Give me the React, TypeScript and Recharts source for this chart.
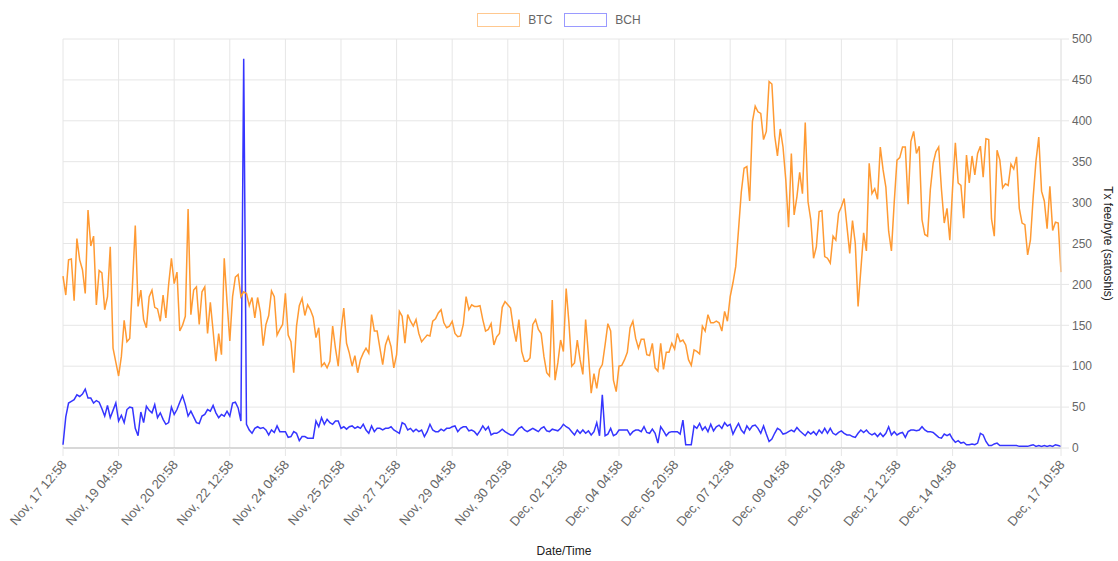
import React from 'react';
import { LineChart, Line, XAxis, YAxis, CartesianGrid } from 'recharts';

// one point every 2 hours, Nov 17 12:58 -> Dec 17 10:58 (360 points)
// rows of 20 values = one 40h tick interval
const btcFee = [
  210, 187, 230, 231, 180, 256, 230, 218, 189, 291, 247, 259, 175, 217, 214, 169, 185, 246, 122, 105,
  88, 112, 156, 130, 134, 200, 272, 173, 193, 157, 147, 185, 193, 172, 170, 155, 187, 159, 200, 232,
  201, 215, 143, 150, 161, 292, 163, 193, 197, 151, 191, 197, 140, 178, 143, 106, 140, 114, 232, 179,
  131, 185, 209, 212, 185, 191, 189, 174, 184, 159, 184, 166, 125, 151, 162, 192, 185, 138, 145, 151,
  189, 138, 130, 92, 149, 174, 183, 162, 175, 169, 160, 135, 147, 100, 104, 98, 106, 149, 122, 100,
  143, 171, 128, 116, 100, 113, 92, 108, 116, 122, 116, 163, 143, 143, 122, 102, 126, 136, 124, 98,
  114, 167, 161, 128, 163, 155, 149, 157, 140, 130, 134, 138, 137, 155, 158, 165, 169, 153, 147, 149,
  155, 140, 136, 137, 151, 185, 169, 175, 173, 173, 174, 157, 143, 145, 152, 126, 136, 140, 172, 179,
  175, 171, 147, 130, 157, 118, 106, 106, 110, 151, 157, 145, 140, 112, 92, 88, 181, 83, 104, 132,
  118, 195, 153, 100, 104, 132, 108, 90, 157, 114, 67, 91, 73, 96, 102, 126, 152, 143, 83, 69,
  100, 101, 108, 117, 147, 155, 134, 122, 133, 133, 114, 113, 128, 98, 94, 128, 96, 117, 117, 128,
  121, 140, 130, 132, 126, 108, 101, 120, 118, 115, 149, 143, 163, 153, 153, 155, 153, 143, 167, 155,
  185, 202, 222, 267, 313, 342, 344, 302, 399, 418, 411, 409, 377, 387, 448, 445, 382, 357, 390, 368,
  328, 270, 360, 285, 307, 337, 311, 398, 301, 279, 232, 246, 289, 290, 234, 232, 226, 259, 254, 287,
  295, 305, 271, 238, 278, 250, 173, 218, 263, 241, 348, 311, 317, 304, 368, 340, 319, 265, 241, 300,
  352, 355, 368, 368, 298, 375, 387, 360, 369, 279, 261, 259, 316, 348, 362, 368, 316, 275, 293, 254,
  318, 373, 324, 321, 281, 358, 324, 357, 334, 360, 369, 331, 378, 377, 280, 259, 364, 352, 318, 323,
  321, 347, 341, 356, 293, 275, 273, 236, 254, 307, 351, 380, 314, 302, 268, 320, 266, 276, 275, 215,
];

const bchFee = [
  4, 38, 55, 57, 59, 65, 63, 66, 72, 61, 61, 55, 58, 56, 48, 39, 52, 37, 46, 55,
  33, 40, 31, 47, 50, 49, 24, 15, 44, 31, 51, 46, 43, 53, 37, 43, 35, 29, 31, 50,
  41, 47, 56, 64, 53, 39, 45, 38, 31, 30, 39, 41, 47, 45, 52, 43, 37, 41, 39, 45,
  39, 55, 56, 49, 33, 476, 29, 22, 18, 24, 26, 24, 25, 22, 16, 22, 19, 27, 20, 20,
  20, 13, 14, 20, 18, 9, 14, 14, 12, 12, 12, 33, 26, 37, 29, 35, 31, 29, 33, 33,
  24, 26, 23, 26, 27, 24, 26, 24, 29, 22, 18, 27, 20, 24, 24, 22, 24, 24, 26, 22,
  20, 18, 31, 29, 22, 24, 20, 23, 20, 22, 14, 20, 29, 22, 20, 20, 23, 21, 24, 24,
  26, 27, 20, 24, 26, 26, 21, 22, 20, 16, 21, 27, 22, 26, 16, 18, 18, 20, 23, 20,
  18, 16, 16, 20, 24, 26, 22, 20, 22, 24, 22, 20, 24, 26, 21, 20, 23, 22, 21, 24,
  29, 26, 24, 20, 16, 22, 18, 22, 18, 21, 16, 20, 31, 15, 65, 15, 17, 24, 15, 17,
  22, 22, 22, 22, 16, 20, 22, 22, 20, 26, 19, 18, 23, 18, 6, 26, 21, 15, 19, 20,
  20, 20, 17, 34, 4, 4, 4, 27, 24, 30, 22, 26, 20, 29, 21, 26, 28, 24, 31, 27,
  29, 17, 24, 30, 22, 18, 27, 22, 27, 28, 24, 18, 27, 17, 8, 11, 18, 24, 22, 17,
  18, 20, 22, 20, 25, 21, 18, 15, 20, 17, 20, 16, 22, 18, 24, 18, 24, 18, 16, 19,
  21, 18, 16, 16, 14, 13, 18, 22, 19, 22, 18, 16, 18, 14, 18, 14, 18, 26, 16, 20,
  16, 18, 19, 13, 20, 22, 22, 21, 22, 26, 22, 20, 20, 19, 16, 13, 12, 17, 15, 17,
  11, 7, 9, 6, 7, 4, 4, 5, 4, 6, 18, 16, 8, 3, 3, 5, 6, 3, 3, 3,
  3, 3, 3, 3, 2, 2, 2, 2, 3, 4, 2, 3, 2, 3, 2, 3, 2, 4, 3, 2,
];

const tickIdx = [0, 20, 40, 60, 80, 100, 120, 140, 160, 180, 200, 220, 240, 260, 280, 300, 320, 359];
const tickLabels = [
  'Nov, 17 12:58', 'Nov, 19 04:58', 'Nov, 20 20:58', 'Nov, 22 12:58', 'Nov, 24 04:58',
  'Nov, 25 20:58', 'Nov, 27 12:58', 'Nov, 29 04:58', 'Nov, 30 20:58', 'Dec, 02 12:58',
  'Dec, 04 04:58', 'Dec, 05 20:58', 'Dec, 07 12:58', 'Dec, 09 04:58', 'Dec, 10 20:58',
  'Dec, 12 12:58', 'Dec, 14 04:58', 'Dec, 17 10:58',
];
const yTicks = [0, 50, 100, 150, 200, 250, 300, 350, 400, 450, 500];

const FONT = "'Liberation Sans', Arial, Helvetica, sans-serif";
const BTC_COLOR = '#ff9a33';
const BCH_COLOR = '#3535ff';

const rows = btcFee.map((v, i) => ({ idx: i, btc: v, bch: bchFee[i] }));

function DateTick(props: any) {
  const { x, y, payload } = props;
  const label = tickLabels[tickIdx.indexOf(payload.value)];
  const ax = x + 1;
  const ay = y + 4;
  return (
    <text
      x={ax}
      y={ay}
      textAnchor="end"
      dominantBaseline="central"
      fontSize={13}
      fontFamily={FONT}
      fill="#666"
      transform={`rotate(-50 ${ax} ${ay})`}
    >
      {label}
    </text>
  );
}

function LegendItem({ color, name }: { color: string; name: string }) {
  return (
    <div style={{ display: 'flex', alignItems: 'center', marginRight: 12 }}>
      <div style={{ width: 41, height: 12, border: `1.5px solid ${color}`, background: '#fff', marginRight: 8 }} />
      <span style={{ fontSize: 12, color: '#666', fontFamily: FONT }}>{name}</span>
    </div>
  );
}

export default function App() {
  return (
    <div style={{ position: 'relative', width: 1118, height: 561, background: '#fff' }}>
      <style>{'body{margin:0}'}</style>
      <div
        style={{
          position: 'absolute',
          top: 13,
          left: 0,
          width: 1118,
          display: 'flex',
          justifyContent: 'center',
          paddingLeft: 12,
          boxSizing: 'border-box',
        }}
      >
        <LegendItem color="#ffc88f" name="BTC" />
        <LegendItem color="#9a9aff" name="BCH" />
      </div>
      <LineChart width={1118} height={561} data={rows} margin={{ top: 39, right: 0, bottom: 0, left: 63 }}>
        <CartesianGrid stroke="#e6e6e6" />
        <XAxis
          dataKey="idx"
          type="number"
          domain={[0, 359]}
          ticks={tickIdx}
          interval={0}
          height={113}
          tick={<DateTick />}
          tickSize={8}
          tickMargin={2}
          tickLine={{ stroke: '#e6e6e6' }}
          axisLine={{ stroke: '#bdbdbd' }}
          label={{
            content: (p: any) => {
              const vb = p.viewBox;
              return (
                <text
                  x={vb.x + vb.width / 2 + 2}
                  y={vb.y + 103}
                  textAnchor="middle"
                  dominantBaseline="central"
                  fontSize={12}
                  fontFamily={FONT}
                  fill="#222"
                >
                  Date/Time
                </text>
              );
            },
          }}
        />
        <YAxis
          orientation="right"
          width={57}
          domain={[0, 500]}
          ticks={yTicks}
          interval={0}
          tickSize={8}
          tickMargin={3}
          tickLine={{ stroke: '#e6e6e6' }}
          axisLine={{ stroke: '#e6e6e6' }}
          tick={{ fontSize: 12, fill: '#666', fontFamily: FONT }}
          label={{
            content: (p: any) => {
              const vb = p.viewBox;
              const cx = vb.x + 47;
              const cy = vb.y + vb.height / 2;
              return (
                <text
                  x={cx}
                  y={cy}
                  textAnchor="middle"
                  dominantBaseline="central"
                  fontSize={12}
                  fontFamily={FONT}
                  fill="#222"
                  transform={`rotate(90 ${cx} ${cy})`}
                >
                  Tx fee/byte (satoshis)
                </text>
              );
            },
          }}
        />
        <Line type="linear" dataKey="bch" stroke={BCH_COLOR} strokeWidth={1.5} dot={false} isAnimationActive={false} />
        <Line type="linear" dataKey="btc" stroke={BTC_COLOR} strokeWidth={1.5} dot={false} isAnimationActive={false} />
      </LineChart>
    </div>
  );
}
